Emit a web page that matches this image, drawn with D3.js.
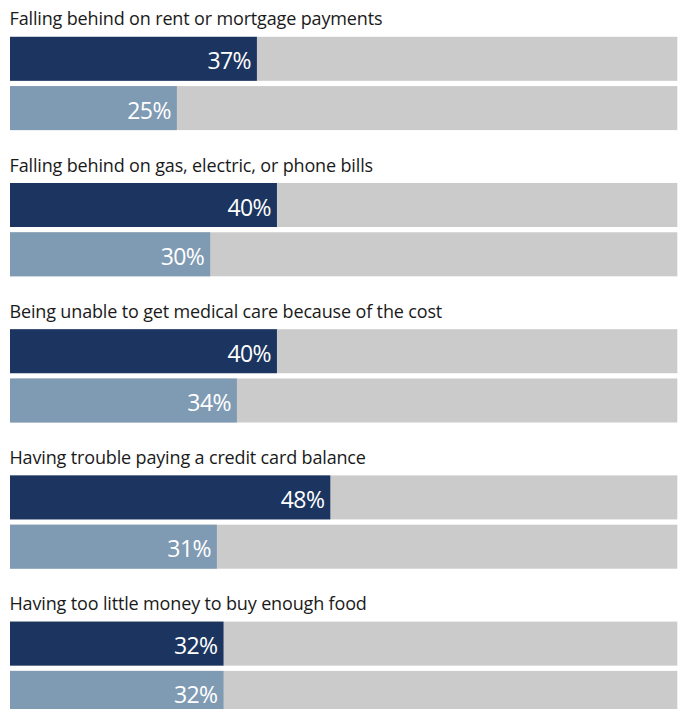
<!DOCTYPE html>
<html>
<head>
<meta charset="utf-8">
<script src="https://cdn.jsdelivr.net/npm/d3@7"></script>
<style>
  html, body { margin: 0; padding: 0; background: #fff; }
  svg { display: block; }
</style>
</head>
<body>
<div id="chart"></div>
<script>
// Hardship categories and the two survey groups' shares (percent)
const categories = [
  "Falling behind on rent or mortgage payments",
  "Falling behind on gas, electric, or phone bills",
  "Being unable to get medical care because of the cost",
  "Having trouble paying a credit card balance",
  "Having too little money to buy enough food"
];
const seriesNames = ["groupA", "groupB"];
const groupA = [37, 40, 40, 48, 32];
const groupB = [25, 30, 34, 31, 32];

const width = 679, height = 709;
const colors = { groupA: "#1c3560", groupB: "#7f9ab3", track: "#cbcbcb" };
const font = "'Open Sans', 'Noto Sans', sans-serif";

const svg = d3.select("#chart").append("svg")
  .attr("width", width).attr("height", height);

const x = d3.scaleLinear().domain([0, 100]).range([10, 677.3]);

// One band per category; inside it, one band per series
const y0 = d3.scaleBand().domain(categories).range([36.8, 36.8 + 5 * 146.2]);
const y1 = d3.scaleBand().domain(seriesNames).range([0, 93.3]).paddingInner(0.107);

const rows = categories.map((c, i) => ({
  category: c,
  values: [
    { key: "groupA", value: groupA[i] },
    { key: "groupB", value: groupB[i] }
  ]
}));

const g = svg.selectAll("g.group").data(rows).join("g")
  .attr("class", "group")
  .attr("transform", d => `translate(0,${y0(d.category)})`);

g.append("text")
  .attr("x", 9.5)
  .attr("y", -11.5)
  .attr("fill", "#1a1a1a")
  .style("font-family", font)
  .style("font-size", "18px")
  .style("letter-spacing", "-0.15px")
  .text(d => d.category);

const bar = g.selectAll("g.bar").data(d => d.values).join("g")
  .attr("class", "bar")
  .attr("transform", d => `translate(0,${y1(d.key)})`);

bar.append("rect")
  .attr("x", x(0))
  .attr("width", x(100) - x(0))
  .attr("height", y1.bandwidth())
  .attr("fill", colors.track);

bar.append("rect")
  .attr("x", x(0))
  .attr("width", d => x(d.value) - x(0))
  .attr("height", y1.bandwidth())
  .attr("fill", d => colors[d.key]);

bar.append("text")
  .attr("x", d => x(d.value) - 6)
  .attr("y", 32.6)
  .attr("text-anchor", "end")
  .attr("fill", "#fff")
  .style("font-family", font)
  .style("font-size", "23px")
  .style("letter-spacing", "-0.6px")
  .text(d => d.value + "%");
</script>
</body>
</html>
